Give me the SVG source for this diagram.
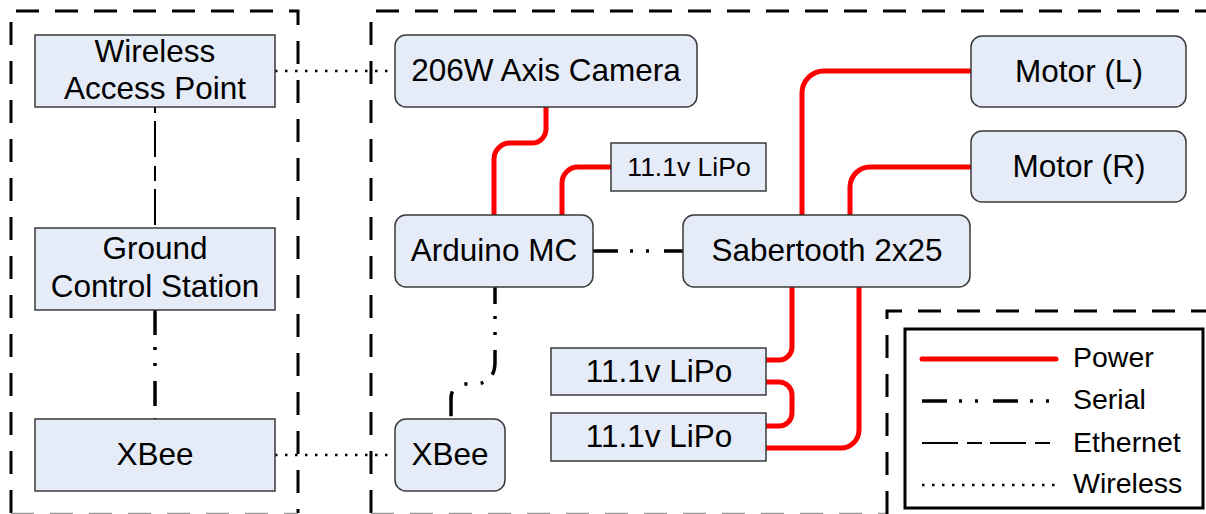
<svg xmlns="http://www.w3.org/2000/svg" width="1206" height="514" viewBox="0 0 1206 514">
<style>
  .grp { fill: none; stroke: #000; stroke-width: 3; stroke-dasharray: 23 16; }
  .grpb { fill: none; stroke: #9a9a9a; stroke-width: 1.5; stroke-dasharray: 23 16; }
  .box { fill: #E6ECF7; stroke: #3a3a3a; stroke-width: 1.5; }
  .t { font-family: "Liberation Sans", Arial, sans-serif; font-size: 31.5px; fill: #000; text-anchor: middle; }
  .ts { font-family: "Liberation Sans", Arial, sans-serif; font-size: 26.5px; fill: #000; text-anchor: middle; }
  .tl { font-family: "Liberation Sans", Arial, sans-serif; font-size: 28.5px; fill: #000; }
  .pw { fill: none; stroke: #FF0000; stroke-width: 5; stroke-linecap: round; }
  .ser { fill: none; stroke: #000; stroke-width: 3.5; stroke-dasharray: 25 12 3 13 3 15; }
  .eth { fill: none; stroke: #000; stroke-width: 2; stroke-dasharray: 36 9 15 8; }
  .wl { fill: none; stroke: #000; stroke-width: 2.5; stroke-dasharray: 2.5 7.5; }
</style>

<g id="groups">
  <path class="grp" d="M11,513 V11 H298 V513"/>
  <path class="grpb" d="M11,513.5 H298"/>
  <path class="grp" d="M371,513 V11 H1215"/>
  <path class="grpb" d="M371,513.5 H887"/>
  <path class="grp" d="M887,514 V311 H1215"/>
</g>

<g id="connectors">
  <!-- wireless -->
  <path class="wl" d="M275,71 H395"/>
  <path class="wl" d="M275,455 H395"/>
  <!-- ethernet -->
  <path class="eth" stroke-dashoffset="54" d="M155,107 V228"/>
  <!-- serial -->
  <path class="ser" d="M155,310 V419"/>
  <path class="ser" d="M593,251 H683"/>
  <path class="ser" stroke-dashoffset="8" d="M495,287 V362 Q495,384 473,384 H466 Q451,384 451,399 V419"/>
  <!-- power -->
  <path class="pw" d="M546,107 V129 A14,14 0 0 1 532,143 H510 A16,16 0 0 0 494,159 V215"/>
  <path class="pw" d="M611,167 H578 A16,16 0 0 0 562,183 V215"/>
  <path class="pw" d="M971,71 H824 A22,22 0 0 0 802,93 V215"/>
  <path class="pw" d="M971,167 H870 A20,20 0 0 0 850,187 V215"/>
  <path class="pw" d="M792,287 V347 A13,13 0 0 1 779,360 H766"/>
  <path class="pw" d="M766,382 H779 A13,13 0 0 1 792,395 V413 A13,13 0 0 1 779,426 H766"/>
  <path class="pw" d="M859,287 V430 A18,18 0 0 1 841,448 H766"/>
</g>

<g id="wap">
  <rect class="box" x="35" y="35" width="240" height="72"/>
  <text class="t" x="155" y="62">Wireless</text>
  <text class="t" x="155" y="99">Access Point</text>
</g>
<g id="gcs">
  <rect class="box" x="35" y="228" width="240" height="82"/>
  <text class="t" x="155" y="259">Ground</text>
  <text class="t" x="155" y="297">Control Station</text>
</g>
<g id="xbee-ground">
  <rect class="box" x="35" y="419" width="240" height="72"/>
  <text class="t" x="155" y="465">XBee</text>
</g>
<g id="camera">
  <rect class="box" x="395" y="35" width="302" height="72" rx="11"/>
  <text class="t" x="546" y="81">206W Axis Camera</text>
</g>
<g id="lipo-small">
  <rect class="box" x="611" y="143" width="155" height="48"/>
  <text class="ts" x="689" y="176">11.1v LiPo</text>
</g>
<g id="arduino">
  <rect class="box" x="395" y="215" width="198" height="72" rx="11"/>
  <text class="t" x="494" y="261">Arduino MC</text>
</g>
<g id="sabertooth">
  <rect class="box" x="683" y="215" width="287" height="72" rx="11"/>
  <text class="t" x="827" y="261">Sabertooth 2x25</text>
</g>
<g id="motor-l">
  <rect class="box" x="971" y="36" width="215" height="71" rx="11"/>
  <text class="t" x="1079" y="82">Motor (L)</text>
</g>
<g id="motor-r">
  <rect class="box" x="971" y="131" width="215" height="71" rx="11"/>
  <text class="t" x="1079" y="177">Motor (R)</text>
</g>
<g id="xbee-robot">
  <rect class="box" x="395" y="419" width="110" height="72" rx="11"/>
  <text class="t" x="450" y="465">XBee</text>
</g>
<g id="lipo-1">
  <rect class="box" x="551" y="348" width="215" height="47"/>
  <text class="t" x="659" y="382">11.1v LiPo</text>
</g>
<g id="lipo-2">
  <rect class="box" x="551" y="413" width="215" height="48"/>
  <text class="t" x="659" y="447">11.1v LiPo</text>
</g>

<g id="legend">
  <rect x="905" y="329" width="298" height="179" fill="#fff" stroke="#000" stroke-width="3"/>
  <path class="pw" d="M922,359 H1056"/>
  <path class="ser" d="M922,401 H1056"/>
  <path class="eth" d="M922,443 H1056"/>
  <path class="wl" d="M922,485 H1056"/>
  <text class="tl" x="1073" y="367">Power</text>
  <text class="tl" x="1073" y="409">Serial</text>
  <text class="tl" x="1073" y="452">Ethernet</text>
  <text class="tl" x="1073" y="493">Wireless</text>
</g>
</svg>
